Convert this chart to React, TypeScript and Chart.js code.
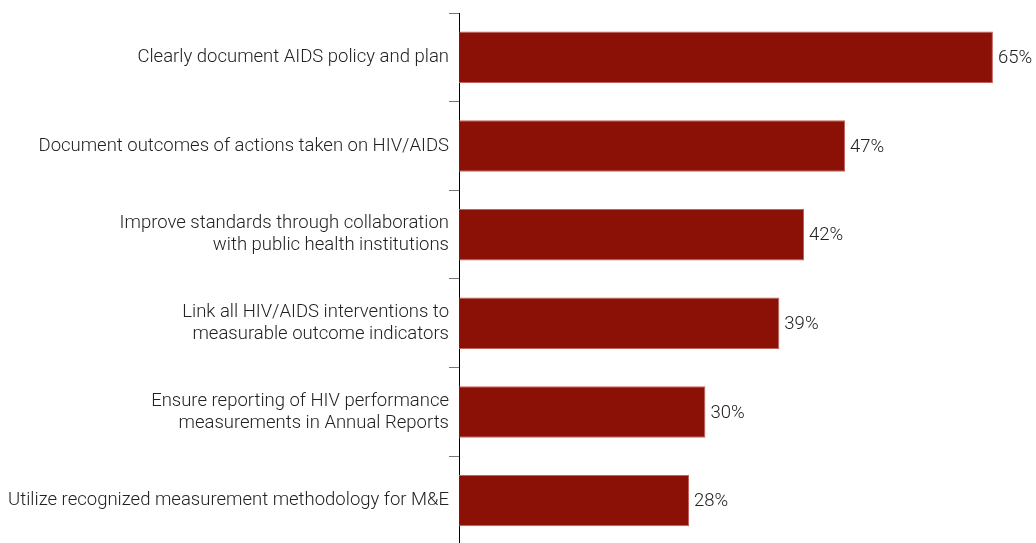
import React, { useEffect, useRef } from "react";
import { Chart, registerables } from "chart.js";

Chart.register(...registerables);

const categories: (string | string[])[] = [
  "Clearly document AIDS policy and plan",
  "Document outcomes of actions taken on HIV/AIDS",
  ["Improve standards through collaboration", "with public health institutions"],
  ["Link all HIV/AIDS interventions to", "measurable outcome indicators"],
  ["Ensure reporting of HIV performance", "measurements in Annual Reports"],
  "Utilize recognized measurement methodology for M&E",
];

const values: number[] = [65, 47, 42, 39, 30, 28];

const FONT_FAMILY = "Roboto, 'Liberation Sans', Arial, sans-serif";
const FONT_SIZE = 18.5;

const valueLabelPlugin = {
  id: "valueLabels",
  afterDatasetsDraw(chart: any) {
    const ctx = chart.ctx;
    const meta = chart.getDatasetMeta(0);
    ctx.save();
    ctx.font = `300 ${FONT_SIZE}px ${FONT_FAMILY}`;
    ctx.fillStyle = "#222222";
    ctx.textAlign = "left";
    ctx.textBaseline = "middle";
    meta.data.forEach((bar: any, i: number) => {
      ctx.fillText(`${values[i]}%`, bar.x + 5, bar.y + 1);
    });
    ctx.restore();
  },
};

export default function App() {
  const ref = useRef<HTMLCanvasElement | null>(null);

  useEffect(() => {
    document.body.style.margin = "0";
    if (!ref.current) return;
    const chart = new Chart(ref.current, {
      type: "bar",
      data: {
        labels: categories,
        datasets: [
          {
            data: values,
            backgroundColor: "#8b1006",
            borderColor: "#c4605a",
            borderWidth: 1,
            categoryPercentage: 1,
            barPercentage: 0.58,
          },
        ],
      },
      options: {
        indexAxis: "y",
        animation: false,
        responsive: true,
        maintainAspectRatio: false,
        layout: { padding: { top: 13, bottom: 0, left: 0, right: 2 } },
        plugins: {
          legend: { display: false },
          tooltip: { enabled: false },
        },
        scales: {
          x: {
            display: false,
            min: 0,
            max: 70,
          },
          y: {
            offset: true,
            afterFit: (s: any) => {
              s.width = 459;
            },
            grid: {
              offset: true,
              drawOnChartArea: false,
              drawTicks: true,
              tickLength: 10,
              color: "#777777",
              lineWidth: 1,
            },
            border: { display: true, color: "#000000", width: 1 },
            ticks: {
              padding: 0,
              color: "#222222",
              font: { family: FONT_FAMILY, size: FONT_SIZE, weight: "300" as any, lineHeight: 1.19 },
            },
          },
        },
      },
      plugins: [valueLabelPlugin],
    });
    return () => chart.destroy();
  }, []);

  return (
    <div style={{ position: "absolute", left: 0, top: 0, width: 1036, height: 543, overflow: "hidden" }}>
      <div style={{ position: "relative", width: 1036, height: 556 }}>
        <canvas ref={ref} />
      </div>
    </div>
  );
}
